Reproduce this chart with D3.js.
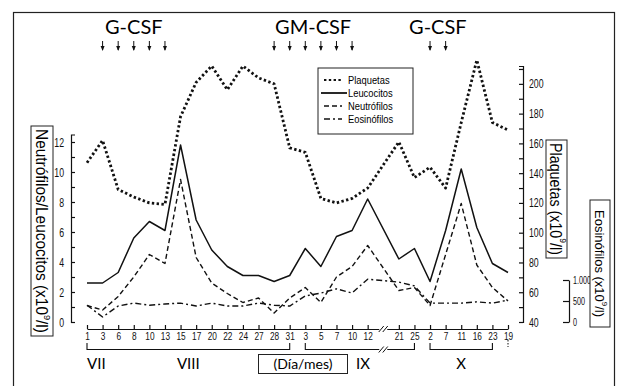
<!DOCTYPE html>
<html lang="es">
<head>
<meta charset="UTF-8">
<title>Plaquetas, leucocitos, neutrófilos y eosinófilos</title>
<script src="https://d3js.org/d3.v7.min.js"></script>
<style>
  body { margin: 0; background: #fff; }
  .narrow { font-family: "Liberation Sans", Arial, sans-serif; }
  .big { font-family: Lato, "Open Sans", sans-serif; }
  .axis path, .axis line { stroke: #111; stroke-width: 1.2; }
  .axis text { fill: #111; }
</style>
</head>
<body>
<svg class="chart"></svg>
<script>
// días (eje x), con un corte entre el 12 y el 21 de IX
const dias = ["1","3","6","8","10","13","15","17","20","22","24","27","28","31",
  "3","5","7","10","12","21","25","2","7","11","16","23","19"]

// series
const plaquetas = [147,162,129,124,120,119,178,201,212,196,212,204,200,157,
  154,123,120,123,130,161,137,144,130,174,216,174,169]
const leucocitos = [2.6,2.6,3.3,5.6,6.7,6.1,11.8,6.8,4.8,3.7,3.1,3.1,2.7,3.1,
  4.9,3.7,5.7,6.1,8.2,4.2,4.9,2.7,6.1,10.2,6.3,3.9,3.3]
const neutrofilos = [1.1,0.8,1.7,3.0,4.5,3.9,9.5,4.3,2.6,1.9,1.3,1.6,0.6,1.6,
  2.3,1.3,3.0,3.7,5.1,2.1,2.3,1.1,4.5,7.9,3.8,2.3,1.4]
const eosinofilos = [400,120,380,450,400,430,450,380,450,380,380,450,400,380,
  620,690,790,690,1020,950,860,450,450,450,480,450,520]

// tratamientos: nombre y días de administración (índices de dias)
const tratamientos = [
  { nombre: "G-CSF", dias: [1,2,3,4,5] },
  { nombre: "GM-CSF", dias: [12,13,14,15,16,17] },
  { nombre: "G-CSF", dias: [21,22] }
]

const meses = ["VII", "VIII", "IX", "X"]
const mesAncla = [0.6, 6.5, 17.7, 23]
const mesTramos = [[0,13],[14,20],[21,25]]

const W = 620, H = 386
const svg = d3.select(".chart").attr("width", W).attr("height", H)

// letra estrecha: comprime el texto a lo ancho
function estrechar(sel, f) {
  sel.each(function () {
    const n = this.getComputedTextLength()
    if (n > 0) d3.select(this).attr("textLength", n * f).attr("lengthAdjust", "spacingAndGlyphs")
  })
}

svg.append("rect").attr("x", 13.5).attr("y", 12.5).attr("width", 601).attr("height", 400)
  .attr("fill", "none").attr("stroke", "#222").attr("stroke-width", 1.2)

const slots = dias.map((d, i) => "d" + i)
slots.splice(19, 0, "corte")
const x = d3.scalePoint().domain(slots).range([87, 508])
const px = i => x("d" + i)
const pxf = f => { const a = Math.floor(f), b = Math.min(a + 1, 26); return px(a) + (px(b) - px(a)) * (f - a) }

const yL = d3.scaleLinear().domain([0, 12.5]).range([322, 134.5])
const yP = d3.scaleLinear().domain([40, 212]).range([322, 66])
const yE = d3.scaleLinear().domain([0, 1000]).range([322, 280])

// ejes
const gx = svg.append("g").attr("class", "axis narrow").attr("transform", "translate(0,329)")
  .call(d3.axisBottom(x).tickValues(slots.filter(s => s !== "corte"))
    .tickSize(-4).tickSizeOuter(0).tickPadding(3)
    .tickFormat(s => dias[+s.slice(1)]))
gx.selectAll("text").attr("font-size", 11.5).call(estrechar, 0.72)

const corteX = x("corte")
function corte(y) {
  svg.append("rect").attr("x", corteX - 4).attr("y", y - 3).attr("width", 8).attr("height", 6).attr("fill", "#fff")
  ;[-2.5, 1.5].forEach(o => svg.append("line")
    .attr("x1", corteX + o - 2).attr("y1", y + 3).attr("x2", corteX + o + 3).attr("y2", y - 3)
    .attr("stroke", "#111").attr("stroke-width", 1))
}
corte(329)

const gl = svg.append("g").attr("class", "axis narrow").attr("transform", "translate(71,0)")
  .call(d3.axisLeft(yL).tickValues(d3.range(0, 13)).tickSize(-4).tickSizeOuter(-4).tickPadding(7)
    .tickFormat(d => d % 2 === 0 ? d : ""))
gl.selectAll("text").attr("font-size", 12.5).call(estrechar, 0.7)

const gr = svg.append("g").attr("class", "axis narrow").attr("transform", "translate(523,0)")
  .call(d3.axisRight(yP).tickValues(d3.range(40, 211, 10)).tickSize(-4).tickSizeOuter(-4).tickPadding(6)
    .tickFormat(d => d % 20 === 0 ? d : ""))
gr.selectAll("text").attr("font-size", 12.5).call(estrechar, 0.7)

const ge = svg.append("g").attr("class", "axis narrow").attr("transform", "translate(569,0)")
  .call(d3.axisRight(yE).tickValues([0, 500, 1000]).tickSize(-6).tickSizeOuter(0).tickPadding(4)
    .tickFormat(d => d === 1000 ? "1.000" : d))
ge.selectAll("text").attr("font-size", 10).call(estrechar, 0.72)

// títulos de ejes en recuadro
function rotulo(cx, cy, w, h, txt, fs) {
  svg.append("rect").attr("x", cx - w / 2).attr("y", cy - h / 2).attr("width", w).attr("height", h)
    .attr("fill", "#fff").attr("stroke", "#222").attr("stroke-width", 1)
  const t = svg.append("text").attr("class", "narrow").attr("font-size", fs)
    .attr("text-anchor", "middle").attr("dominant-baseline", "central")
  t.append("tspan").text(txt + " (x10")
  t.append("tspan").attr("font-size", fs * 0.6).attr("dy", -fs * 0.4).text("9")
  t.append("tspan").attr("dy", fs * 0.4).text("/l)")
  const n = t.node().getComputedTextLength()
  const sx = Math.min(1, (h - 6) / n)
  t.attr("transform", `translate(${cx},${cy}) rotate(90) scale(${sx},1)`)
}
rotulo(42, 231, 22, 210, "Neutrófilos/Leucocitos", 16)
rotulo(556.5, 199, 21, 118, "Plaquetas", 16)
rotulo(600, 263.5, 20, 127, "Eosinófilos", 13)

// series
const estilos = [
  { nombre: "Plaquetas", datos: plaquetas, y: yP, dash: "2.4 2.4", w: 2.8 },
  { nombre: "Leucocitos", datos: leucocitos, y: yL, dash: null, w: 1.5 },
  { nombre: "Neutrófilos", datos: neutrofilos, y: yL, dash: "5 3", w: 1.4 },
  { nombre: "Eosinófilos", datos: eosinofilos, y: yE, dash: "6 3 2 3", w: 1.4 }
]
estilos.forEach(s => {
  const line = d3.line().x((d, i) => px(i)).y(d => s.y(d))
  svg.append("path").datum(s.datos).attr("d", line)
    .attr("fill", "none").attr("stroke", "#111").attr("stroke-width", s.w)
    .attr("stroke-dasharray", s.dash).attr("stroke-linejoin", "round")
})

// leyenda
const lg = svg.append("g").attr("transform", "translate(318,68)")
lg.append("rect").attr("width", 95).attr("height", 66).attr("fill", "#fff").attr("stroke", "#222")
const filas = [12, 25, 38, 51]
estilos.forEach((s, i) => {
  lg.append("line").attr("x1", s.dash ? 6 : 3).attr("x2", s.dash ? 24 : 29)
    .attr("y1", filas[i]).attr("y2", filas[i])
    .attr("stroke", "#111").attr("stroke-width", s.dash ? Math.min(s.w, 2.2) : 1.8).attr("stroke-dasharray", s.dash)
  lg.append("text").attr("class", "narrow").attr("x", 30).attr("y", filas[i] + 4)
    .attr("font-size", 11).text(s.nombre)
})
lg.selectAll("text").call(estrechar, 0.85)

// tratamientos
tratamientos.forEach(t => {
  const xs = t.dias.map(px)
  svg.append("text").attr("class", "big").attr("x", (d3.min(xs) + d3.max(xs)) / 2)
    .attr("y", 34).attr("text-anchor", "middle").attr("font-size", 20).text(t.nombre)
  xs.forEach(xx => {
    svg.append("line").attr("x1", xx).attr("x2", xx).attr("y1", 41).attr("y2", 50)
      .attr("stroke", "#111").attr("stroke-width", 1)
    svg.append("path").attr("d", `M${xx - 2},${46}L${xx},${51}L${xx + 2},${46}Z`).attr("fill", "#111")
  })
})

// corchetes de meses
mesTramos.forEach(([a, b]) => {
  svg.append("path").attr("d", `M${px(a)},343V349.5H${px(b)}V343`)
    .attr("fill", "none").attr("stroke", "#111").attr("stroke-width", 1.1)
})
corte(349.5)
svg.append("line").attr("x1", px(26)).attr("x2", px(26)).attr("y1", 340).attr("y2", 347)
  .attr("stroke", "#111").attr("stroke-dasharray", "1.5 1.5")

meses.forEach((m, i) => {
  svg.append("text").attr("class", "big").attr("x", pxf(mesAncla[i])).attr("y", 369)
    .attr("text-anchor", "middle").attr("font-size", 15).text(m)
})

svg.append("rect").attr("x", 258.5).attr("y", 354.5).attr("width", 89).attr("height", 19)
  .attr("fill", "#fff").attr("stroke", "#222")
svg.append("text").attr("class", "big").attr("x", 303).attr("y", 369).attr("text-anchor", "middle")
  .attr("font-size", 14).text("(Día/mes)")
</script>
</body>
</html>
